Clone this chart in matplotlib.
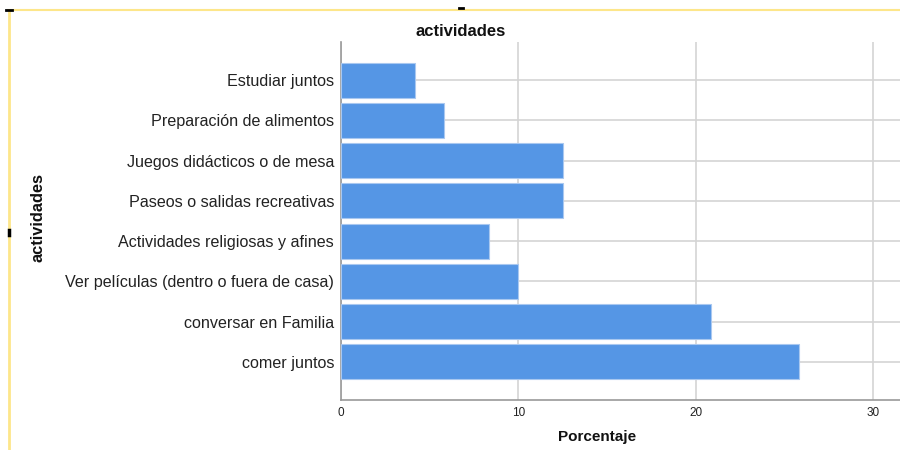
import matplotlib
matplotlib.use("Agg")
import matplotlib.pyplot as plt
from matplotlib.lines import Line2D

categories = [
    "Estudiar juntos",
    "Preparación de alimentos",
    "Juegos didácticos o de mesa",
    "Paseos o salidas recreativas",
    "Actividades religiosas y afines",
    "Ver películas (dentro o fuera de casa)",
    "conversar en Familia",
    "comer juntos",
]
percentages = [4.17, 5.83, 12.5, 12.5, 8.33, 10.0, 20.83, 25.83]
x_ticks = [0, 10, 20, 30]

plt.rcParams['font.family'] = ['Liberation Sans', 'DejaVu Sans']

W, H = 900, 450
fig = plt.figure(figsize=(9, 4.5), dpi=100)
ax = fig.add_axes([341 / W, 1 - 400 / H, (900 - 341) / W, (400 - 42) / H])

y = list(range(len(categories)))
ax.barh(y, percentages, height=0.87, color="#5596e5", edgecolor="#a9c8f0",
        linewidth=0.8, zorder=3)
ax.set_ylim(len(categories) - 1 + 0.95, -0.95)
ax.set_xlim(0, 31.5)
ax.set_yticks(y)
ax.set_yticklabels(categories, fontsize=11.6, color="#222222")
ax.set_xticks(x_ticks)
ax.set_xticklabels([str(t) for t in x_ticks], fontsize=8.5, color="#222222")
ax.tick_params(axis="both", length=0)
ax.tick_params(axis="y", pad=5)
ax.tick_params(axis="x", pad=5)
ax.grid(True, color="#d4d4d4", linewidth=1.2, zorder=0)
ax.set_axisbelow(True)
for s in ["top", "right"]:
    ax.spines[s].set_visible(False)
for s in ["left", "bottom"]:
    ax.spines[s].set_color("#999999")
    ax.spines[s].set_linewidth(1.2)

fig.text(461 / W, 1 - 31 / H, "actividades", ha="center", va="center",
         fontsize=12, fontweight="bold", color="#111111")
fig.text(597 / W, 1 - 437 / H, "Porcentaje", ha="center", va="center",
         fontsize=11, fontweight="bold", color="#111111")
fig.text(38 / W, 1 - 218 / H, "actividades", ha="center", va="center",
         rotation=90, fontsize=11.8, fontweight="bold", color="#111111")

# yellow frame lines
fig.add_artist(Line2D([8 / W, 1], [1 - 10 / H, 1 - 10 / H], color="#fde68a",
                      linewidth=1.5, transform=fig.transFigure))
fig.add_artist(Line2D([9 / W, 9 / W], [0, 1 - 10 / H], color="#fde68a",
                      linewidth=2, transform=fig.transFigure))
# small black handle marks
fig.add_artist(Line2D([6 / W, 12 / W], [1 - 10 / H, 1 - 10 / H], color="black",
                      linewidth=2, transform=fig.transFigure))
fig.add_artist(Line2D([459 / W, 463 / W], [1 - 8 / H, 1 - 8 / H], color="black",
                      linewidth=2, transform=fig.transFigure))
fig.add_artist(Line2D([9 / W, 9 / W], [1 - 230 / H, 1 - 235 / H], color="black",
                      linewidth=2.5, transform=fig.transFigure))

fig.savefig("out.png", dpi=100)
